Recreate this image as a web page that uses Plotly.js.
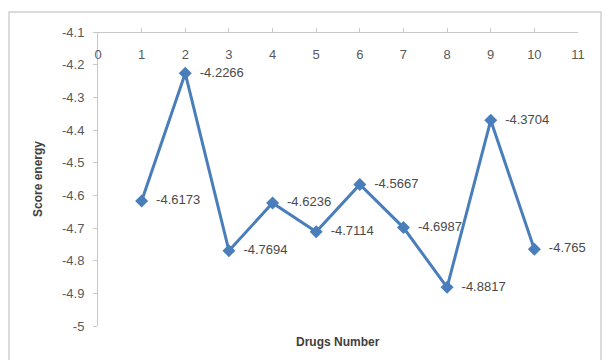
<!DOCTYPE html>
<html><head><meta charset="utf-8">
<script src="https://cdn.plot.ly/plotly-3.0.1.min.js"></script>
<style>html,body{margin:0;padding:0;background:#fff}#chart{width:608px;height:360px}</style>
</head><body><div id="chart"></div>
<script>
const drugs = [1,2,3,4,5,6,7,8,9,10];
const scores = [-4.6173,-4.2266,-4.7694,-4.6236,-4.7114,-4.5667,-4.6987,-4.8817,-4.3704,-4.765];
const xTickVals = [0,1,2,3,4,5,6,7,8,9,10,11];
const yTickVals = [-4.1,-4.2,-4.3,-4.4,-4.5,-4.6,-4.7,-4.8,-4.9,-5];
const yTickText = ['-4.1','-4.2','-4.3','-4.4','-4.5','-4.6','-4.7','-4.8','-4.9','-5'];
const labels = scores.map(v => '\u00a0\u00a0' + String(v));

const font = 'Liberation Sans, Arial, sans-serif';
const trace = {
  x: drugs, y: scores, mode: 'lines+markers+text', type: 'scatter',
  text: labels, textposition: 'middle right',
  textfont: {family: font, size: 13, color: '#4a4a4a'},
  line: {color: '#4A7EBB', width: 3},
  marker: {symbol: 'diamond', size: 10, color: '#4A7EBB'},
  cliponaxis: false, hoverinfo: 'none'
};
const layout = {
  width: 608, height: 360,
  margin: {l: 98, r: 30, t: 32, b: 34},
  paper_bgcolor: '#fff', plot_bgcolor: '#fff',
  showlegend: false,
  font: {family: font, size: 13, color: '#595959'},
  xaxis: {
    range: [0, 11], side: 'bottom', anchor: 'free', position: 1, tickvals: xTickVals,
    ticks: 'inside', ticklen: 4, tickcolor: '#c8c8c8', ticklabelstandoff: 10,
    showline: true, linecolor: '#c8c8c8', linewidth: 1, showgrid: false, zeroline: false,
    tickfont: {family: font, size: 13, color: '#595959'}
  },
  yaxis: {
    range: [-5, -4.1], tickvals: yTickVals, ticktext: yTickText, domain: [0, 1],
    ticks: 'outside', ticklen: 4, tickcolor: '#c8c8c8', ticklabelstandoff: 6,
    showline: true, linecolor: '#c8c8c8', linewidth: 1, showgrid: false, zeroline: false,
    tickfont: {family: font, size: 13, color: '#595959'},
    title: {text: '<b>Score energy</b>', font: {family: font, size: 12, color: '#404040'}, standoff: 16}
  },
  annotations: [{
    xref: 'paper', yref: 'paper', x: 0.5, y: -0.025, yanchor: 'top', showarrow: false,
    text: '<b>Drugs Number</b>', font: {family: font, size: 12, color: '#404040'}
  }],
  shapes: [{
    type: 'rect', xref: 'paper', yref: 'paper',
    x0: (9-98)/480, x1: (601-98)/480, y0: (326-362)/294, y1: (326-12)/294,
    line: {color: '#d0d0d0', width: 1.5}
  }]
};
Plotly.newPlot('chart', [trace], layout, {staticPlot: true, displayModeBar: false});
</script></body></html>
